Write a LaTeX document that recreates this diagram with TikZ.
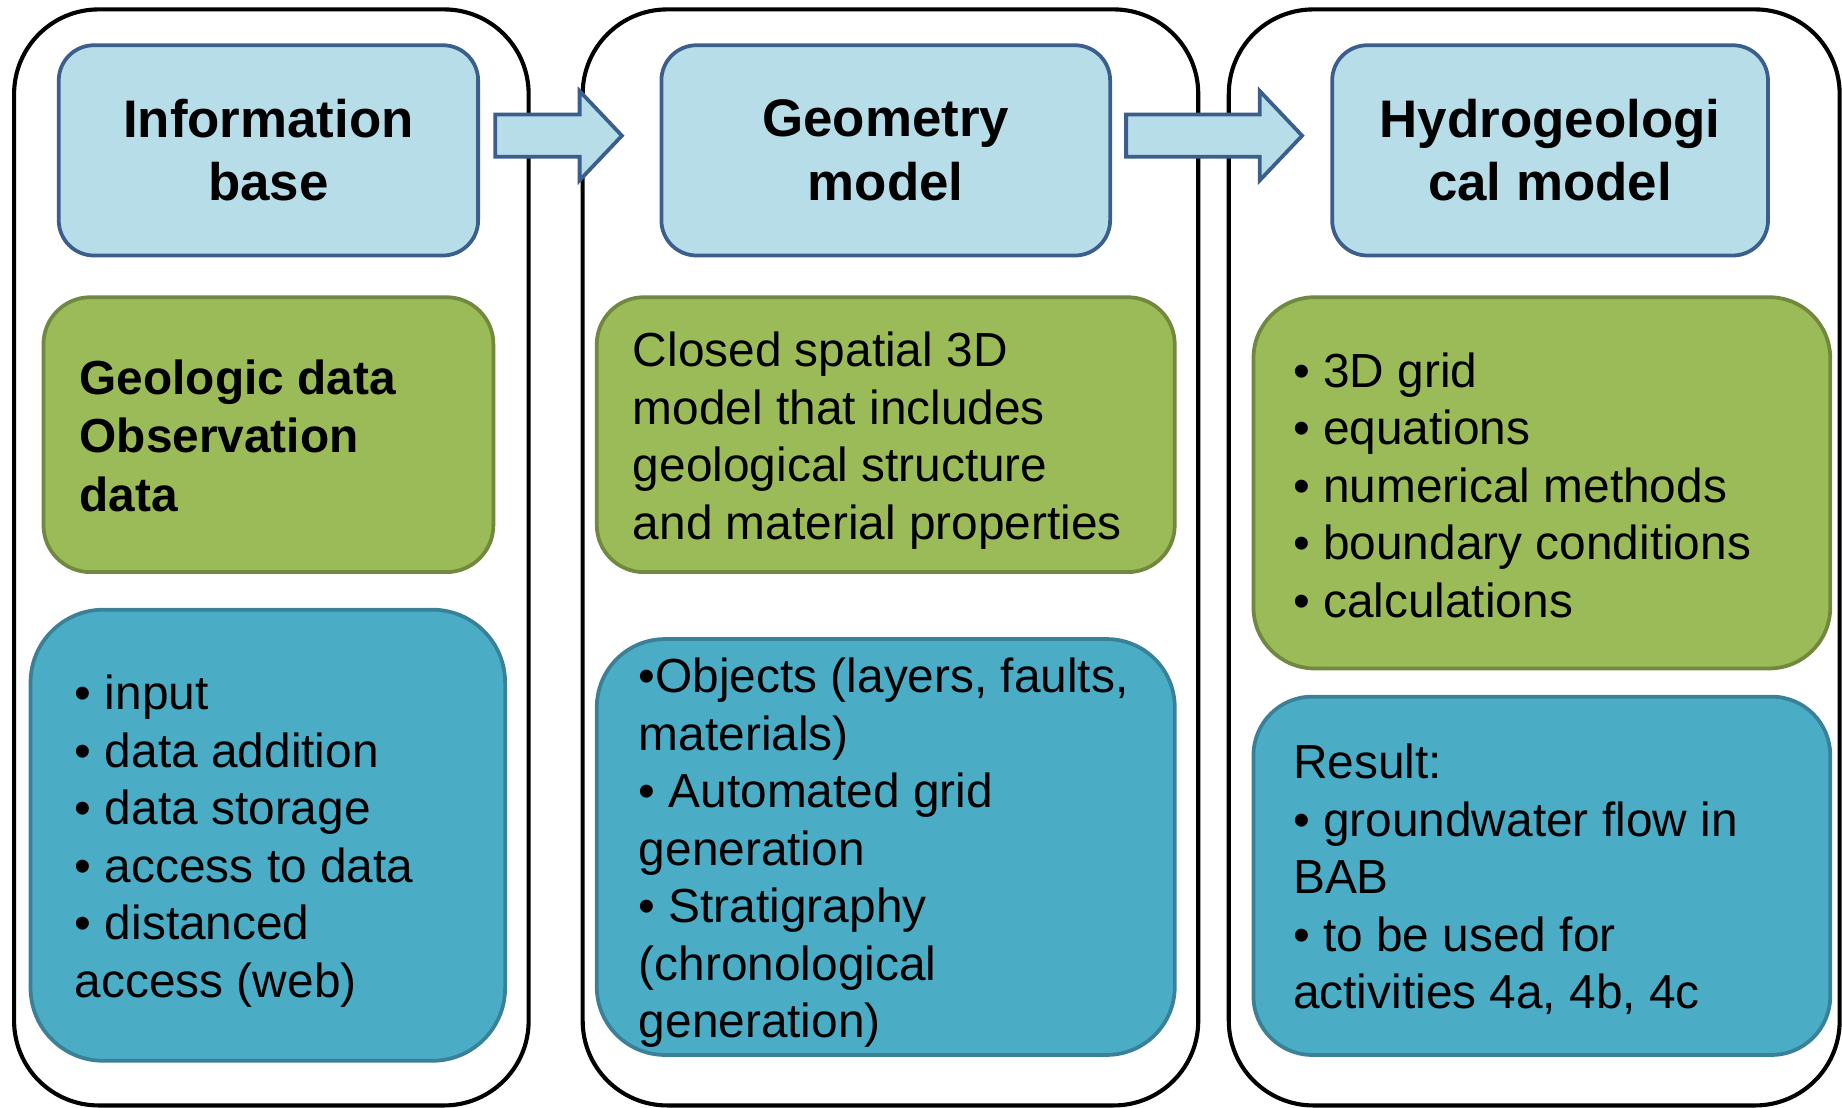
\documentclass[tikz,border=0pt]{standalone}
\usepackage{fontspec}
\setmainfont{Liberation Sans}
\usetikzlibrary{calc}

\definecolor{headfill}{HTML}{B7DEE8}
\definecolor{headline}{HTML}{3B5E8C}
\definecolor{olivefill}{HTML}{9BBB59}
\definecolor{oliveline}{HTML}{71893F}
\definecolor{tealfill}{HTML}{4BACC6}
\definecolor{tealline}{HTML}{3A8197}

% block arrow from shaft start #1 to tip #2
\newcommand{\fatarrow}[2]{%
	\draw[fatarrow] (#1) -- ++(0,-18) -| ($(#2)+(-36,-38)$) -- (#2)
		-- ($(#2)+(-36,38)$) |- ($(#1)+(0,18)$) -- cycle;}

\begin{document}
\begin{tikzpicture}[x=0.5pt,y=-0.5pt,
		column/.style={draw=black,line width=1.75pt,rounded corners=36pt,minimum height=466.5pt},
		headbox/.style={draw=headline,fill=headfill,line width=1.6pt,rounded corners=15pt,
			minimum height=89.5pt,align=center,font=\fontsize{22.5pt}{27pt}\selectfont\bfseries},
		olivebox/.style={draw=oliveline,fill=olivefill,line width=1.6pt},
		tealbox/.style={draw=tealline,fill=tealfill,line width=1.6pt},
		body/.style={anchor=west,align=left,inner sep=0pt,font=\fontsize{20.35pt}{24.5pt}\selectfont},
		fatarrow/.style={draw=headline,fill=headfill,line width=1.6pt}]
	\useasboundingbox (0,0) rectangle (1568,943);

	% the three columns
	\node[column,minimum width=219pt] (col1) at (231,474.5){};
	\node[column,minimum width=262pt] (col2) at (758,474.5){};
	\node[column,minimum width=260pt] (col3) at (1306,474.5){};

	% headings
	\node[headbox,minimum width=178.5pt] (t1) at (228.5,128){Information\\base};
	\node[headbox,minimum width=191pt] (t2) at (754,128){Geometry\\model};
	\node[headbox,minimum width=185.5pt] (t3) at (1319.5,128){Hydrogeologi\\cal model};

	% green boxes
	\node[olivebox,rounded corners=20pt,minimum width=191.5pt,minimum height=117pt] (g1) at (228.5,370){};
	\node[olivebox,rounded corners=20pt,minimum width=246pt,minimum height=117pt] (g2) at (754,370){};
	\node[olivebox,rounded corners=26pt,minimum width=245.5pt,minimum height=158pt] (g3) at (1312.5,411){};

	% blue boxes
	\node[tealbox,rounded corners=31pt,minimum width=202pt,minimum height=192pt] (b1) at (228,711){};
	\node[tealbox,rounded corners=29pt,minimum width=246pt,minimum height=177pt] (b2) at (754,721){};
	\node[tealbox,rounded corners=25pt,minimum width=245.5pt,minimum height=152.5pt] (b3) at (1312.5,745.5){};

	\node[body,font=\fontsize{20.35pt}{24.75pt}\selectfont\bfseries] (g1txt) at ($(g1.west)+(32,1)$)
		{Geologic data\\Observation\\data};
	\node[body] (g2txt) at ($(g2.west)+(32,5)$)
		{Closed spatial 3D\\model that includes\\geological structure\\and material properties};
	\node[body] (g3txt) at ($(g3.west)+(35,2)$)
		{• 3D grid\\• equations\\• numerical methods\\• boundary conditions\\• calculations};

	\node[body] (b1txt) at ($(b1.west)+(39,5)$)
		{• input\\• data addition\\• data storage\\• access to data\\• distanced\\access (web)};
	\node[body] (b2txt) at ($(b2.west)+(37,5)$)
		{•Objects (layers, faults,\\materials)\\• Automated grid\\generation\\• Stratigraphy\\(chronological\\generation)};
	\node[body] (b3txt) at ($(b3.west)+(35,3)$)
		{Result:\\• groundwater flow in\\BAB\\• to be used for\\activities 4a, 4b, 4c};

	% arrows between the headings
	\coordinate (a1) at ($(t1.east)+(13,-12.5)$);
	\coordinate (a1tip) at ($(t2.west)+(-32,-12.5)$);
	\coordinate (a2) at ($(t2.east)+(12,-12.5)$);
	\coordinate (a2tip) at ($(t3.west)+(-24,-12.5)$);
	\fatarrow{a1}{a1tip}
	\fatarrow{a2}{a2tip}

\end{tikzpicture}
\end{document}
